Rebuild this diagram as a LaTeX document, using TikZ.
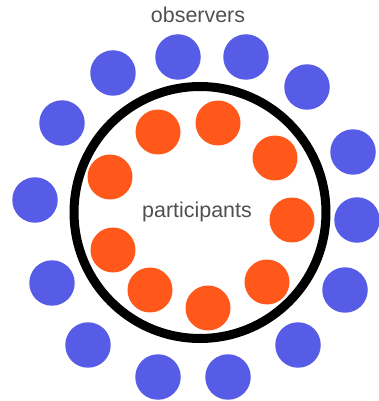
\documentclass[tikz,border=0pt]{standalone}
\usepackage{fontspec}
\setmainfont{Liberation Sans}
\usepackage{xcolor}
\usepackage{tikz}

\definecolor{obsblue}{RGB}{86,92,230}
\definecolor{partorange}{RGB}{255,88,26}
\definecolor{labelgray}{RGB}{80,80,80}

\begin{document}
\begin{tikzpicture}[
    x=0.02cm, y=-0.02cm,
    observer/.style={circle, fill=obsblue, minimum size=0.91cm, inner sep=0pt},
    participant/.style={circle, fill=partorange, minimum size=0.9cm, inner sep=0pt},
    caption/.style={text=labelgray, font=\fontsize{12.2}{14}\selectfont, inner sep=0pt}
]
\useasboundingbox (0,0) rectangle (378,401);

% Circle
\node (ring) [circle, draw=black, line width=0.18cm, minimum size=5.04cm, inner sep=0pt] at (200,212.5) {};

% Observers
\node (obs1) [observer] at (178,57) {};
\node (obs2) [observer] at (246,57) {};
\node (obs3) [observer] at (113,73) {};
\node (obs4) [observer] at (307,87) {};
\node (obs5) [observer] at (62,123) {};
\node (obs6) [observer] at (353,152) {};
\node (obs7) [observer] at (35,200) {};
\node (obs8) [observer] at (357,220) {};
\node (obs9) [observer] at (52,283) {};
\node (obs10) [observer] at (345,290) {};
\node (obs11) [observer] at (88,345) {};
\node (obs12) [observer] at (298,345) {};
\node (obs13) [observer] at (158,377) {};
\node (obs14) [observer] at (228,377) {};

% Participants
\node (part1) [participant] at (218,123) {};
\node (part2) [participant] at (158,132) {};
\node (part3) [participant] at (275,158) {};
\node (part4) [participant] at (110,177) {};
\node (part5) [participant] at (292,220) {};
\node (part6) [participant] at (113,250) {};
\node (part7) [participant] at (150,290) {};
\node (part8) [participant] at (267,282) {};
\node (part9) [participant] at (208,308) {};

% Labels
\node (observers) [caption] at (198,15) {observers};
\node (participants) [caption] at (197,212) {participants};

\end{tikzpicture}
\end{document}
